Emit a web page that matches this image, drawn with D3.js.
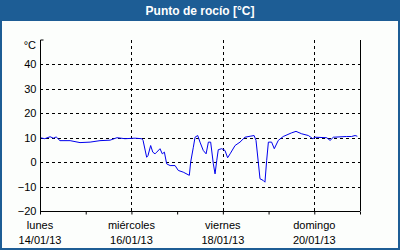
<!DOCTYPE html>
<html>
<head>
<meta charset="utf-8">
<script src="https://cdn.jsdelivr.net/npm/d3@7"></script>
<style>
  body { margin: 0; background: #fff; }
  svg { display: block; font-family: "Liberation Sans", Arial, sans-serif; }
</style>
</head>
<body>
<div class="chart"></div>
<script>
// chart size
var w = 400;
var h = 250;
var margin = {top: 40, right: 40, bottom: 39, left: 40};

// data: hours since 14/01/13 00:00, dew point in °C
var hours = [0, 2.5, 5.3, 7, 8.5, 10.5, 15.8, 21, 26.3, 31.5, 36.8, 40.4, 44.6, 49.9, 53.4, 54.1, 56, 56.7, 58.1,
  59.2, 60.4, 61.3, 63, 64.2, 65.3, 66.5, 68.3, 70.9, 72.6, 75.2, 78.4, 79.1, 80.5, 81.4, 82.8,
  84, 85.7, 87.2, 88.4, 89.6, 91, 91.9, 92.8, 93.6, 95.4, 97.1, 98.5, 99.8, 102.4, 105, 107.6,
  110.3, 112.4, 113.4, 114.6, 115.5, 117.2, 118.1, 119, 119.9, 121.6, 123, 125.1, 127.7, 132.1,
  134.4, 137.4, 140.9, 143.2, 144.4, 150.5, 152.3, 154, 161, 163.6, 165.4, 166.6];
var dewPoint = [10, 9.6, 10.4, 9.8, 10.3, 8.8, 8.8, 8.0, 8.2, 8.8, 9.0, 10, 9.6, 9.8, 9.6, 8.9, 2.0, 2.7, 6.8,
  4.1, 3.4, 4.1, 5.5, 3.4, 4.1, -0.7, -1.4, -1.4, -3.4, -4.1, -5.4, 0, 6.1, 10.2, 10.9,
  8.2, 4.8, 3.4, 8.2, 8.2, -0.7, -4.8, 0.7, 5.1, 5.5, 4.8, 1.8, 3.4, 6.8, 8.2, 10.2,
  10.6, 10.9, 8.9, 0, -6.8, -7.5, -8.2, 0.7, 8.2, 8.2, 5.5, 8.9, 10.5, 12,
  12.6, 11.6, 10.9, 9.6, 10.2, 10, 8.9, 10.2, 10.5, 10.5, 10.9, 10.6];

// axis labels
var yTicks = [-20, -10, 0, 10, 20, 30, 40];
var yGrid = [-10, 0, 10, 20, 30, 40];
var dayTicks = [0, 24, 48, 72, 96, 120, 144, 168];
var dayGrid = [48, 96, 144];
var labelDays = [0, 48, 96, 144];
var dayNames = ["lunes", "miércoles", "viernes", "domingo"];
var dayDates = ["14/01/13", "16/01/13", "18/01/13", "20/01/13"];

var blue = "#1d5d95";

var svg = d3.select(".chart").append("svg")
  .attr("width", w)
  .attr("height", h);

// frame + title bar
svg.append("rect").attr("x", 0).attr("y", 0).attr("width", w).attr("height", h).attr("fill", blue);
svg.append("rect").attr("x", 2).attr("y", 21).attr("width", w - 4).attr("height", h - 23).attr("fill", "#fcfefc");
svg.append("text")
  .attr("x", w / 2).attr("y", 15)
  .attr("text-anchor", "middle")
  .attr("fill", "#fff")
  .style("font-size", "12px")
  .style("font-weight", "bold")
  .text("Punto de rocío [°C]");

var x = d3.scaleLinear().domain([0, 168]).range([margin.left, w - margin.right]);
var y = d3.scaleLinear().domain([-20, 50]).range([h - margin.bottom, margin.top]);

// dashed grid
svg.selectAll("line.hgrid").data(yGrid).enter().append("line")
  .attr("class", "hgrid")
  .attr("x1", x(0)).attr("x2", x(168))
  .attr("y1", function(d) { return Math.round(y(d)) + 0.5; })
  .attr("y2", function(d) { return Math.round(y(d)) + 0.5; })
  .attr("stroke", "#000").attr("stroke-dasharray", "3,3");

svg.selectAll("line.vgrid").data(dayGrid).enter().append("line")
  .attr("class", "vgrid")
  .attr("x1", function(d) { return Math.round(x(d)) + 0.5; })
  .attr("x2", function(d) { return Math.round(x(d)) + 0.5; })
  .attr("y1", y(50)).attr("y2", y(-20))
  .attr("stroke", "#000").attr("stroke-dasharray", "3,3");

// data line
var line = d3.line()
  .x(function(d, i) { return x(hours[i]); })
  .y(function(d) { return y(d); });

svg.append("path")
  .datum(dewPoint)
  .attr("d", line)
  .attr("fill", "none")
  .attr("stroke", "#0000ee")
  .attr("stroke-width", 1);

// axes
var xAxis = d3.axisBottom(x).tickValues(dayTicks).tickSize(3).tickFormat("");
var gx = svg.append("g")
  .attr("transform", "translate(0," + (Math.round(y(-20)) + 0.5) + ")")
  .call(xAxis);
gx.select(".domain").attr("d", "M" + x(0) + ",0H" + x(168));

var yAxis = d3.axisLeft(y).tickValues(yTicks).tickSize(0).tickPadding(4);
var gy = svg.append("g")
  .attr("transform", "translate(" + (Math.round(x(0)) + 0.5) + ",0)")
  .call(yAxis);
gy.select(".domain").attr("d", "M3," + y(50) + "H0V" + y(-20));
gy.selectAll("text").style("font-size", "11px").attr("fill", "#000");

svg.append("line")
  .attr("x1", Math.round(x(168)) + 0.5).attr("x2", Math.round(x(168)) + 0.5)
  .attr("y1", y(50)).attr("y2", y(-20))
  .attr("stroke", "#000");

svg.append("text")
  .attr("x", x(0) - 4).attr("y", y(50) + 9)
  .attr("text-anchor", "end")
  .style("font-size", "11px")
  .text("°C");

// day labels, two lines
var lbl = svg.selectAll("g.daylabel").data(labelDays).enter().append("g")
  .attr("class", "daylabel")
  .attr("transform", function(d) { return "translate(" + x(d) + ",0)"; });
lbl.append("text").attr("y", 229).attr("text-anchor", "middle").style("font-size", "11px")
  .text(function(d, i) { return dayNames[i]; });
lbl.append("text").attr("y", 244).attr("text-anchor", "middle").style("font-size", "11px")
  .text(function(d, i) { return dayDates[i]; });
</script>
</body>
</html>
